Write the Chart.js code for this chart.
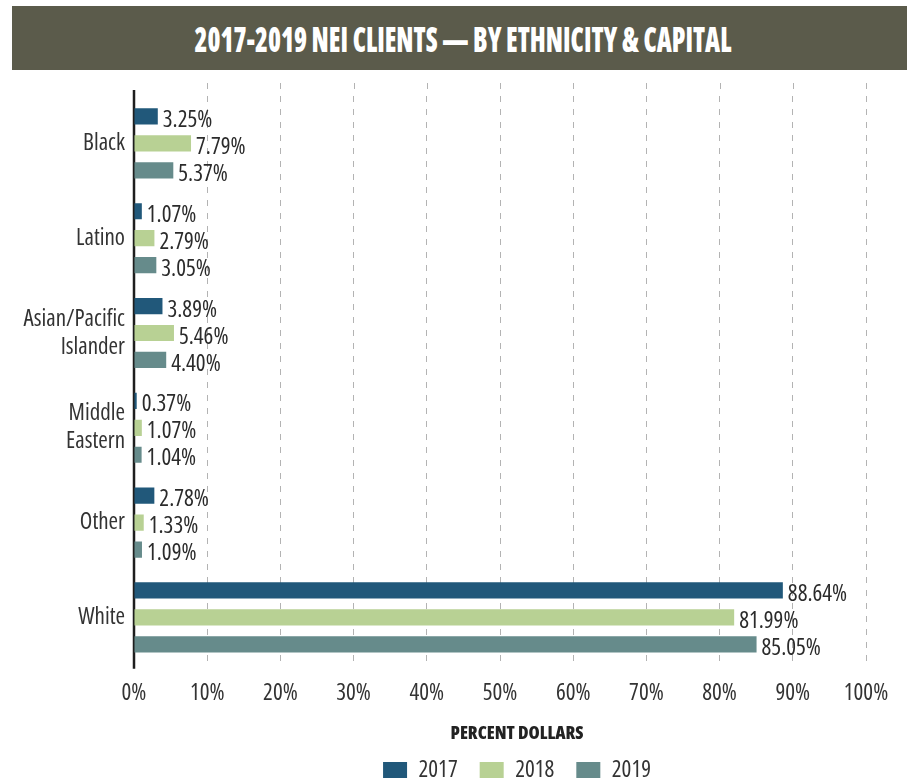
<!DOCTYPE html>
<html>

<head>
    <meta charset="utf-8">
    <title>NEI Clients by Ethnicity & Capital</title>
    <script src="https://cdn.jsdelivr.net/npm/chart.js@4.4.1/dist/chart.umd.min.js"></script>
    <style>
        body {
            margin: 0;
            background: #fff;
        }

        #wrap {
            position: relative;
            width: 907px;
            height: 781px;
        }

        #banner {
            position: absolute;
            left: 12px;
            top: 6px;
            width: 895px;
            height: 64px;
            background: #5b5b4b;
            display: flex;
            align-items: center;
            justify-content: center;
        }

        #banner span {
            display: inline-block;
            color: #fff;
            font-family: 'Open Sans', sans-serif;
            font-stretch: 62.5%;
            font-weight: 800;
            font-size: 35px;
            white-space: nowrap;
            transform: scaleX(0.75);
            margin-left: 7px;
            margin-top: 1px;
        }

        canvas {
            position: absolute;
            left: 0;
            top: 0;
        }
    </style>
</head>

<body>
    <div id="wrap">
        <canvas id="canvas" width="907" height="781"></canvas>
        <div id="banner"><span>2017-2019 NEI CLIENTS — BY ETHNICITY &amp; CAPITAL</span></div>
    </div>

    <script>
        // categories and yearly shares (percent of dollars)
        const groups = ['Black', 'Latino', ['Asian/Pacific', 'Islander'], ['Middle', 'Eastern'], 'Other', 'White'];
        const years = ['2017', '2018', '2019'];
        const share2017 = [3.25, 1.07, 3.89, 0.37, 2.78, 88.64];
        const share2018 = [7.79, 2.79, 5.46, 1.07, 1.33, 81.99];
        const share2019 = [5.37, 3.05, 4.40, 1.04, 1.09, 85.05];
        const colors = ['#21587a', '#b8d194', '#668b8b'];

        const face = "'Open Sans', sans-serif";
        // Chart.js puts "weight" straight into the font string, so the width keyword rides along
        const narrow = 'extra-condensed';

        // axis line and dashed grid run a little past the plot area
        const axisOverhang = {
            id: 'axisOverhang',
            beforeDatasetsDraw(chart) {
                const { ctx, chartArea: a, scales: { x } } = chart;
                ctx.save();
                ctx.strokeStyle = '#b3b3b3';
                ctx.lineWidth = 1;
                ctx.setLineDash([6, 7]);
                x.ticks.forEach(t => {
                    if (t.value === 0) return;
                    const px = Math.round(x.getPixelForValue(t.value)) + 0.5;
                    ctx.beginPath();
                    ctx.moveTo(px, a.top - 13);
                    ctx.lineTo(px, a.top);
                    ctx.stroke();
                });
                ctx.setLineDash([]);
                ctx.strokeStyle = '#1e1e1e';
                ctx.lineWidth = 2.5;
                const x0 = x.getPixelForValue(0);
                ctx.beginPath();
                ctx.moveTo(x0, a.top - 6);
                ctx.lineTo(x0, a.bottom + 4);
                ctx.stroke();
                ctx.restore();
            }
        };

        // writes the value next to the end of each bar
        const barValues = {
            id: 'barValues',
            afterDatasetsDraw(chart) {
                const ctx = chart.ctx;
                ctx.save();
                ctx.font = narrow + ' 23px ' + face;
                ctx.fillStyle = '#2b2b2b';
                ctx.textAlign = 'left';
                ctx.textBaseline = 'middle';
                chart.data.datasets.forEach((ds, i) => {
                    chart.getDatasetMeta(i).data.forEach((bar, j) => {
                        ctx.fillText(ds.data[j].toFixed(2) + '%', bar.x + 5, bar.y + 4);
                    });
                });
                ctx.restore();
            }
        };

        // legend block sits right of centre and low on the page
        const legendShift = {
            id: 'legendShift',
            afterLayout(chart) {
                const lg = chart.legend;
                const dx = 517 - (lg.left + lg.right) / 2;
                lg.left += dx;
                lg.right += dx;
                lg.top += 10.6;
                lg.bottom += 10.6;
            }
        };

        const datasets = [share2017, share2018, share2019].map((d, i) => ({
            label: years[i],
            data: d,
            backgroundColor: colors[i],
            borderWidth: 0,
            categoryPercentage: 0.853,
            barPercentage: 0.6
        }));

        new Chart(document.getElementById('canvas'), {
            type: 'bar',
            data: { labels: groups, datasets: datasets },
            options: {
                indexAxis: 'y',
                responsive: false,
                animation: false,
                layout: { padding: { top: 96, right: 41, left: 0, bottom: 0 } },
                scales: {
                    x: {
                        min: 0,
                        max: 100,
                        afterFit: s => { s.height = 36.8; },
                        ticks: {
                            stepSize: 10,
                            color: '#333',
                            padding: 15,
                            font: { family: face, weight: narrow, size: 23 },
                            callback: v => v + '%'
                        },
                        grid: {
                            drawTicks: false,
                            color: c => c.tick && c.tick.value === 0 ? 'rgba(0,0,0,0)' : '#b3b3b3',
                            lineWidth: 1
                        },
                        border: { display: false, dash: [6, 7] }
                    },
                    y: {
                        afterFit: s => { s.width = 134; },
                        ticks: {
                            color: '#333',
                            padding: 9,
                            font: { family: face, weight: narrow, size: 23, lineHeight: 1.22 }
                        },
                        grid: { display: false, drawTicks: false },
                        border: { display: false }
                    }
                },
                plugins: {
                    tooltip: { enabled: false },
                    legend: {
                        position: 'bottom',
                        title: {
                            display: true,
                            text: 'PERCENT DOLLARS',
                            color: '#222',
                            padding: { top: 13, bottom: -12 },
                            font: { family: face, size: 18, weight: '800 ' + narrow, lineHeight: 1.3 }
                        },
                        labels: {
                            boxWidth: 24,
                            boxHeight: 16,
                            padding: 22,
                            color: '#333',
                            font: { family: face, weight: narrow, size: 23 }
                        }
                    }
                }
            },
            plugins: [axisOverhang, barValues, legendShift]
        });
    </script>
</body>

</html>
